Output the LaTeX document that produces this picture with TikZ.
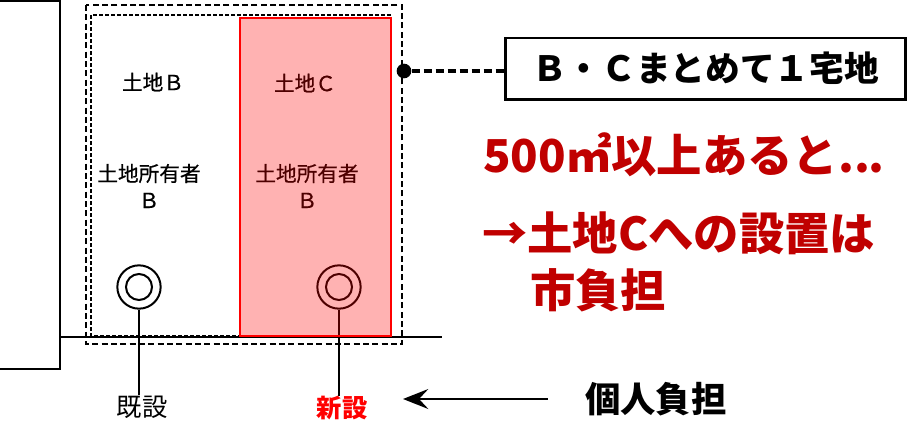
\documentclass[tikz,border=0pt]{standalone}
\usepackage{fontspec}
\usepackage{xcolor}
\usetikzlibrary{arrows.meta}
\newfontfamily\jp{Noto Sans CJK JP}
\newfontfamily\jpm[FakeBold=0.6]{Noto Sans CJK JP}
\definecolor{darkred}{RGB}{192,0,0}

\begin{document}
\begin{tikzpicture}[x=0.75pt,y=0.75pt,yscale=-1,xscale=1,
  lbl/.style={font=\jpm\fontsize{15.5}{20}\selectfont, inner sep=0.75pt, align=center},
  meter/.style={circle, draw, line width=1.5pt, minimum size=32.5pt, inner sep=0pt},
  meterin/.style={circle, draw, line width=1.5pt, minimum size=19.5pt, inner sep=0pt},
  big/.style={font=\jp\bfseries\fontsize{34}{40}\selectfont, text=darkred, anchor=west, inner sep=0pt}]
\useasboundingbox (0,0) rectangle (911,422);

%Shape: Building
\draw [line width=2pt] (-5,1) -- (60,1) -- (60,369) -- (-5,369) ;
%Straight Lines [road]
\draw [line width=1.2pt] (60,337) -- (442,337) ;
%Shape: Rectangle [lands B and C]
\draw [line width=1.1pt, dash pattern={on 3pt off 1.5pt}] (91,15) rectangle (391,336) ;

% Text Node
\node [lbl] (landB) at (153,82) {土地Ｂ};
\node [lbl] (ownerB) at (149,186) {土地所有者\\Ｂ};
\node [lbl] (landC) at (305,83) {土地Ｃ};
\node [lbl] (ownerC) at (307,186) {土地所有者\\Ｂ};

% Meters
\node [meter] (meterB) at (139,287) {};
\node [meterin] (meterBi) at (meterB.center) {};
\node [meter] (meterC) at (339,287) {};
\node [meterin] (meterCi) at (meterC.center) {};

% Text Node
\node [font=\jp\fontsize{19}{22}\selectfont, inner sep=0pt] (kisetsu) at (142,407) {既設};
\node [font=\jp\bfseries\fontsize{19}{22}\selectfont, text=red, inner sep=0pt] (shinsetsu) at (342,408) {新設};
%Straight Lines
\draw [line width=0.8pt] (meterB.south) -- (meterB.south |- kisetsu.north) ;
\draw [line width=0.8pt] (meterC.south) -- (meterC.south |- shinsetsu.north) ;

%Shape: Rectangle [land C]
\draw [draw=red, fill=red, fill opacity=0.3, line width=2pt] (240,18) rectangle (391,336) ;
%Shape: Rectangle [one lot]
\draw [line width=1.5pt, dash pattern={on 4.5pt off 2.5pt}] (86,5) rectangle (402,344) ;

% Text Node
\node [circle, fill, inner sep=0pt, minimum size=11pt] (dot) at (404,71) {};
\node [draw, line width=2pt, minimum width=300pt, minimum height=46pt, font=\jp\bfseries\fontsize{26}{30}\selectfont] (matome) at (705.5,68.5) {Ｂ・Ｃまとめて１宅地};
%Straight Lines
\draw [line width=2.6pt, dash pattern={on 6pt off 3pt}] (dot) -- (dot -| matome.west) ;

% Text Node
\node [big] (t500) at (483,155) {500㎡以上あると..\kern-1pt.};
\node [big] (tLandC) at (482,233) {→土地Cへの設置は};
\node [big] (tCity) at (530,290) {市負担};

% Text Node
\node [font=\jp\bfseries\fontsize{26.5}{30}\selectfont, anchor=west, inner sep=0pt] (kojin) at (585,399) {個人負担};
\coordinate (tipK) at (403,399);
%Straight Lines
\draw [line width=1.5pt, -{Stealth[length=19pt,width=15pt,inset=7pt]}] ([xshift=-28pt]kojin.west) -- (tipK |- kojin.west) ;

\end{tikzpicture}
\end{document}
